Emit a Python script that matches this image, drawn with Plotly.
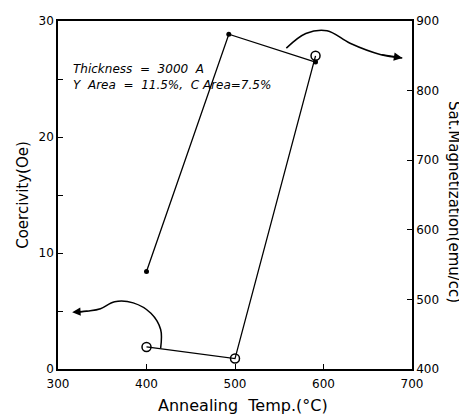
import plotly.graph_objects as go

# Data
temp_coer = [400, 500, 591]
coercivity = [1.9, 0.9, 27.0]          # open circles, left axis (Oe)
temp_mag = [400, 493, 591]
magnetization = [540, 881, 841]       # filled dots, right axis (emu/cc)

x_ticks = [300, 400, 500, 600, 700]
y1_ticks = [0, 10, 20, 30]
y2_ticks = [400, 500, 600, 700, 800, 900]

# curved arrow guides (annotation decorations)
left_curve_x = [416, 416, 405, 385, 364, 348, 335, 320]
left_curve_y = [1.8, 3.4, 4.8, 5.7, 5.8, 5.2, 5.0, 4.9]
right_curve_x = [558, 580, 604, 630, 664, 689]
right_curve_y = [861, 882, 886, 868, 852, 847]

FONT = "DejaVu Sans"

fig = go.Figure()
fig.add_trace(go.Scatter(
    x=temp_coer, y=coercivity, mode="lines+markers",
    line=dict(color="black", width=1.3),
    marker=dict(symbol="circle-open", size=9, color="black", line=dict(width=1.5)),
    yaxis="y", showlegend=False))
fig.add_trace(go.Scatter(
    x=temp_mag, y=magnetization, mode="lines+markers",
    line=dict(color="black", width=1.3),
    marker=dict(symbol="circle", size=5, color="black"),
    yaxis="y2", showlegend=False))

fig.add_trace(go.Scatter(
    x=left_curve_x, y=left_curve_y, mode="lines",
    line=dict(color="black", width=1.5, shape="spline"),
    yaxis="y", showlegend=False, hoverinfo="skip"))
fig.add_trace(go.Scatter(
    x=right_curve_x, y=right_curve_y, mode="lines",
    line=dict(color="black", width=1.5, shape="spline"),
    yaxis="y2", showlegend=False, hoverinfo="skip"))

fig.add_annotation(x=left_curve_x[-1] - 4, y=left_curve_y[-1], xref="x", yref="y",
                   ax=left_curve_x[-2], ay=left_curve_y[-2], axref="x", ayref="y",
                   showarrow=True, arrowhead=2, arrowsize=1.2, arrowwidth=1.4,
                   arrowcolor="black", text="")
fig.add_annotation(x=right_curve_x[-1], y=right_curve_y[-1], xref="x", yref="y2",
                   ax=right_curve_x[-2], ay=right_curve_y[-2], axref="x", ayref="y2",
                   showarrow=True, arrowhead=2, arrowsize=1.2, arrowwidth=1.4,
                   arrowcolor="black", text="")

fig.add_annotation(x=315, y=25.2, xref="x", yref="y", xanchor="left", yanchor="middle",
                   align="left",
                   text="<i>Thickness  =  3000  A<br>Y  Area  =  11.5%,  C Area=7.5%</i>",
                   showarrow=False,
                   font=dict(family=FONT, size=12, color="black"))

# x-axis title
fig.add_annotation(x=0.5, y=0, xref="paper", yref="paper", xanchor="center",
                   yanchor="middle", xshift=8, yshift=-36, showarrow=False,
                   text="Annealing  Temp.(°C)",
                   font=dict(family=FONT, size=16, color="black"))

# right-axis title reading top-to-bottom
fig.add_annotation(x=1.0, y=0.5, xref="paper", yref="paper", xanchor="center",
                   yanchor="middle", xshift=42, yshift=-7, textangle=90, showarrow=False,
                   text="Sat.Magnetization(emu/cc)",
                   font=dict(family=FONT, size=15, color="black"))

axis_common = dict(showgrid=False, zeroline=False, showline=True, linecolor="black",
                   linewidth=1.5, ticks="inside", tickcolor="black", ticklen=5,
                   automargin=False,
                   tickfont=dict(family=FONT, size=12, color="black"))

fig.update_layout(
    width=459, height=411,
    margin=dict(l=50, r=55, t=13, b=50),
    paper_bgcolor="white", plot_bgcolor="white",
    xaxis=dict(range=[300, 700], tickvals=x_ticks, mirror=True,
               ticklabelstandoff=3,
               **axis_common),
    yaxis=dict(range=[0, 30], tickvals=y1_ticks,
               title=dict(text="Coercivity(Oe)", standoff=6,
                          font=dict(family=FONT, size=15, color="black")),
               minor=dict(ticks="inside", dtick=5, ticklen=5, tickcolor="black"),
               **axis_common),
    yaxis2=dict(range=[400, 900], tickvals=y2_ticks, overlaying="y", side="right",
                **axis_common),
)

fig.write_html("out.html")
